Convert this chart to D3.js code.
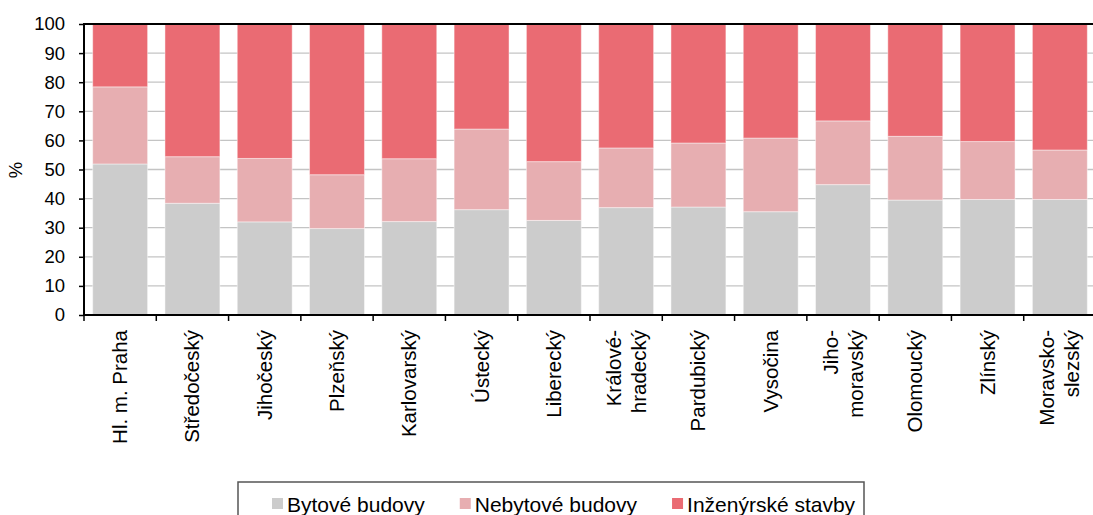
<!DOCTYPE html>
<html>
<head>
<meta charset="utf-8">
<script src="https://cdn.jsdelivr.net/npm/d3@7"></script>
<style>
  body { margin: 0; background: #fff; }
  svg { display: block; font-family: "Liberation Sans", Arial, sans-serif; }
</style>
</head>
<body>
<svg width="1093" height="515"></svg>
<script>
// kraje
var regions = [
    ["Hl. m. Praha"], ["Středočeský"], ["Jihočeský"], ["Plzeňský"], ["Karlovarský"],
    ["Ústecký"], ["Liberecký"], ["Králové-", "hradecký"], ["Pardubický"], ["Vysočina"],
    ["Jiho-", "moravský"], ["Olomoucký"], ["Zlínský"], ["Moravsko-", "slezský"]
];
var seriesNames = ["Bytové budovy", "Nebytové budovy", "Inženýrské stavby"];
var seriesColors = ["#cccccc", "#e7aeb1", "#ea6b73"];

// podíly v %
var bytove    = [51.9, 38.4, 32.0, 29.7, 32.1, 36.2, 32.5, 36.9, 37.1, 35.5, 44.8, 39.5, 39.7, 39.7];
var nebytove  = [26.5, 16.0, 21.8, 18.5, 21.6, 27.7, 20.2, 20.5, 22.0, 25.3, 21.9, 21.9, 19.9, 17.0];
var inzenyrske = [21.6, 45.6, 46.2, 51.8, 46.3, 36.1, 47.3, 42.6, 40.9, 39.2, 33.3, 38.6, 40.4, 43.3];

var yTicks = [0, 10, 20, 30, 40, 50, 60, 70, 80, 90, 100];

function main() {
    var svg = d3.select("svg");
    var pL = 84, pR = 1096, pT = 24, pB = 315;

    var keys = regions.map(function (r) { return r.join(""); });
    var rows = keys.map(function (k, i) {
        return { key: k, s0: bytove[i], s1: nebytove[i], s2: inzenyrske[i] };
    });

    var x = d3.scaleBand().domain(keys).range([pL, pR]).paddingInner(0.24).paddingOuter(0.12);
    var y = d3.scaleLinear().domain([0, 100]).range([pB, pT]);

    // grid
    svg.append("g").selectAll("line")
        .data(yTicks.slice(1, -1))
        .enter().append("line")
        .attr("x1", pL).attr("x2", pR)
        .attr("y1", function (d) { return y(d); })
        .attr("y2", function (d) { return y(d); })
        .attr("stroke", "#c4c4c4")
        .attr("stroke-width", 1.3);

    // bars
    var layers = d3.stack().keys(["s0", "s1", "s2"])(rows);

    svg.append("g").selectAll("g")
        .data(layers)
        .enter().append("g")
        .attr("fill", function (d, i) { return seriesColors[i]; })
        .selectAll("rect")
        .data(function (d) { return d; })
        .enter().append("rect")
        .attr("x", function (d) { return x(d.data.key); })
        .attr("width", x.bandwidth())
        .attr("y", function (d) { return y(d[1]); })
        .attr("height", function (d) { return y(d[0]) - y(d[1]); })
        .attr("stroke", "rgba(255,255,255,0.45)")
        .attr("stroke-width", 1);

    // frame
    svg.append("rect")
        .attr("x", pL).attr("y", pT)
        .attr("width", pR - pL).attr("height", pB - pT)
        .attr("fill", "none").attr("stroke", "#000").attr("stroke-width", 2);

    // y axis
    var yAxis = svg.append("g")
        .attr("transform", "translate(" + pL + ",0)")
        .call(d3.axisLeft(y).tickValues(yTicks).tickSize(5).tickPadding(14));
    yAxis.select(".domain").remove();
    yAxis.selectAll(".tick line").attr("stroke", "#000").attr("stroke-width", 1.5);
    yAxis.selectAll(".tick text")
        .attr("font-size", "18.5px").attr("font-family", "Liberation Sans, Arial, sans-serif")
        .attr("fill", "#000");

    svg.append("text")
        .attr("transform", "translate(22,170) rotate(-90)")
        .attr("text-anchor", "middle")
        .attr("font-size", "18.5px")
        .text("%");

    // x ticks at category boundaries
    var step = x.step();
    var bounds = keys.map(function (k) { return x(k) - (step - x.bandwidth()) / 2; });
    bounds.push(bounds[bounds.length - 1] + step);
    svg.append("g").selectAll("line")
        .data(bounds)
        .enter().append("line")
        .attr("x1", function (d) { return d; }).attr("x2", function (d) { return d; })
        .attr("y1", pB).attr("y2", pB + 6)
        .attr("stroke", "#000").attr("stroke-width", 1.5);

    // x labels
    var lbl = svg.append("g").selectAll("text")
        .data(regions)
        .enter().append("text")
        .attr("font-size", "20.5px")
        .attr("text-anchor", "end")
        .attr("transform", function (d, i) {
            var cx = x(keys[i]) + x.bandwidth() / 2;
            return "translate(" + cx + "," + (pB + 15) + ") rotate(-90)";
        });
    lbl.each(function (d) {
        var t = d3.select(this);
        var n = d.length;
        d.forEach(function (line, j) {
            t.append("tspan")
                .attr("x", 0)
                .attr("y", (j - (n - 1) / 2) * 25 + 7)
                .text(line);
        });
    });

    // legend
    var lg = svg.append("g");
    lg.append("rect")
        .attr("x", 238).attr("y", 482)
        .attr("width", 626).attr("height", 40)
        .attr("fill", "#fff").attr("stroke", "#555").attr("stroke-width", 1.5);
    var lx = 272;
    seriesNames.forEach(function (name, i) {
        lg.append("rect")
            .attr("x", lx).attr("y", 498)
            .attr("width", 11).attr("height", 11)
            .attr("fill", seriesColors[i]);
        var t = lg.append("text")
            .attr("x", lx + 15).attr("y", 512)
            .attr("font-size", "21px")
            .text(name);
        lx = lx + 15 + t.node().getComputedTextLength() + 35;
    });
}

main();
</script>
</body>
</html>
